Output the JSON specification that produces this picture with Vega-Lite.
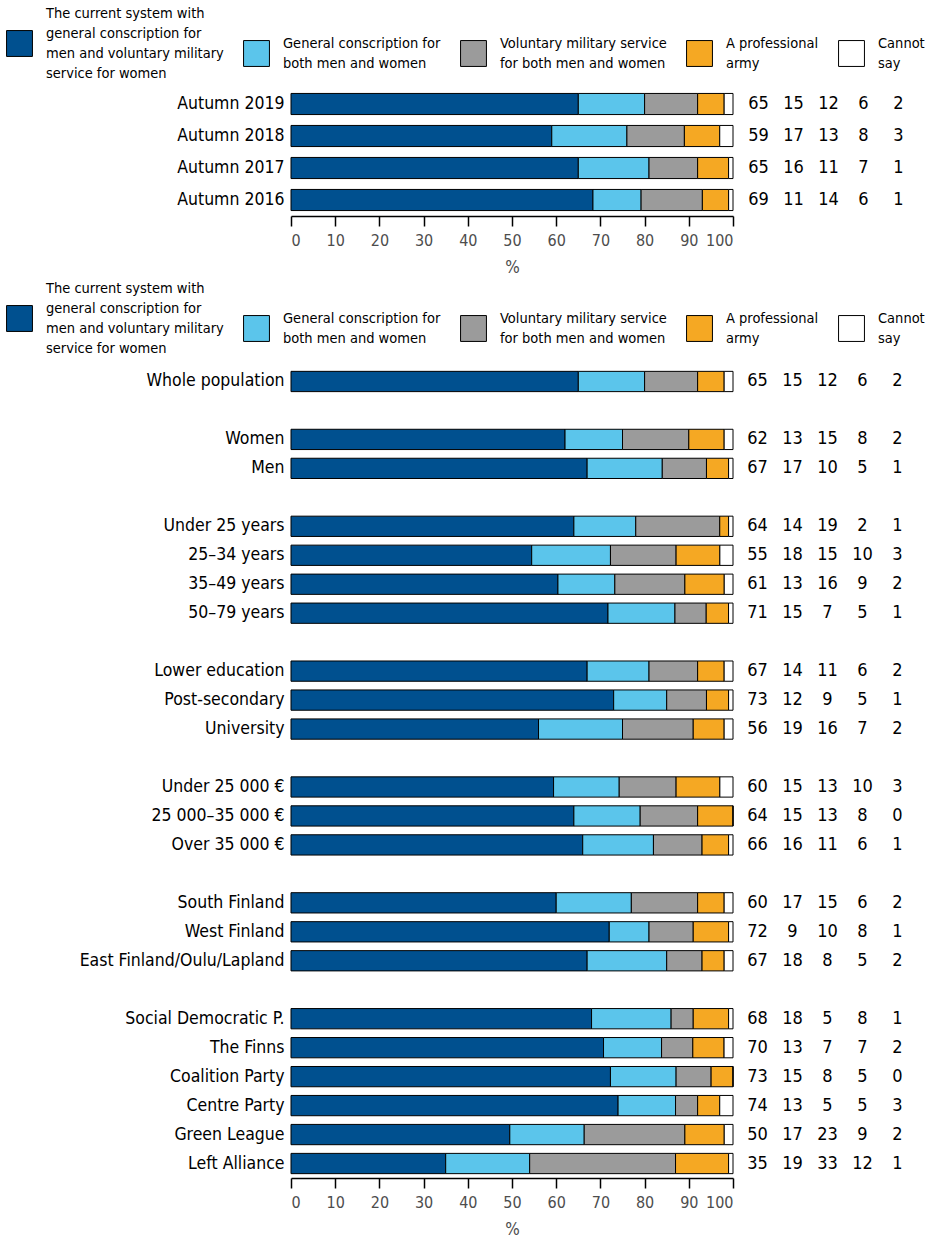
{
  "$schema": "https://vega.github.io/schema/vega-lite/v6.json",
  "padding": {"top": 30, "left": 5, "right": 5, "bottom": 5},
  "config": {
    "font": "DejaVu Sans Condensed, sans-serif",
    "view": {"stroke": null},
    "style": {"guide-label": {"lineHeight": 20}}
  },
  "datasets": {
    "options": [
      {"key": "current", "option": "The current system with general conscription for men and voluntary military service for women", "k": 1},
      {"key": "general", "option": "General conscription for both men and women", "k": 2},
      {"key": "voluntary", "option": "Voluntary military service for both men and women", "k": 3},
      {"key": "professional", "option": "A professional army", "k": 4},
      {"key": "cannot", "option": "Cannot say", "k": 5}
    ],
    "trend": [
      {"group": "Autumn 2019", "current": 65, "general": 15, "voluntary": 12, "professional": 6, "cannot": 2},
      {"group": "Autumn 2018", "current": 59, "general": 17, "voluntary": 13, "professional": 8, "cannot": 3},
      {"group": "Autumn 2017", "current": 65, "general": 16, "voluntary": 11, "professional": 7, "cannot": 1},
      {"group": "Autumn 2016", "current": 69, "general": 11, "voluntary": 14, "professional": 6, "cannot": 1}
    ],
    "groups": [
      {"group": "Whole population", "current": 65, "general": 15, "voluntary": 12, "professional": 6, "cannot": 2},
      {"group": "Women", "current": 62, "general": 13, "voluntary": 15, "professional": 8, "cannot": 2},
      {"group": "Men", "current": 67, "general": 17, "voluntary": 10, "professional": 5, "cannot": 1},
      {"group": "Under 25 years", "current": 64, "general": 14, "voluntary": 19, "professional": 2, "cannot": 1},
      {"group": "25–34 years", "current": 55, "general": 18, "voluntary": 15, "professional": 10, "cannot": 3},
      {"group": "35–49 years", "current": 61, "general": 13, "voluntary": 16, "professional": 9, "cannot": 2},
      {"group": "50–79 years", "current": 71, "general": 15, "voluntary": 7, "professional": 5, "cannot": 1},
      {"group": "Lower education", "current": 67, "general": 14, "voluntary": 11, "professional": 6, "cannot": 2},
      {"group": "Post-secondary", "current": 73, "general": 12, "voluntary": 9, "professional": 5, "cannot": 1},
      {"group": "University", "current": 56, "general": 19, "voluntary": 16, "professional": 7, "cannot": 2},
      {"group": "Under 25 000 €", "current": 60, "general": 15, "voluntary": 13, "professional": 10, "cannot": 3},
      {"group": "25 000–35 000 €", "current": 64, "general": 15, "voluntary": 13, "professional": 8, "cannot": 0},
      {"group": "Over 35 000 €", "current": 66, "general": 16, "voluntary": 11, "professional": 6, "cannot": 1},
      {"group": "South Finland", "current": 60, "general": 17, "voluntary": 15, "professional": 6, "cannot": 2},
      {"group": "West Finland", "current": 72, "general": 9, "voluntary": 10, "professional": 8, "cannot": 1},
      {"group": "East Finland/Oulu/Lapland", "current": 67, "general": 18, "voluntary": 8, "professional": 5, "cannot": 2},
      {"group": "Social Democratic P.", "current": 68, "general": 18, "voluntary": 5, "professional": 8, "cannot": 1},
      {"group": "The Finns", "current": 70, "general": 13, "voluntary": 7, "professional": 7, "cannot": 2},
      {"group": "Coalition Party", "current": 73, "general": 15, "voluntary": 8, "professional": 5, "cannot": 0},
      {"group": "Centre Party", "current": 74, "general": 13, "voluntary": 5, "professional": 5, "cannot": 3},
      {"group": "Green League", "current": 50, "general": 17, "voluntary": 23, "professional": 9, "cannot": 2},
      {"group": "Left Alliance", "current": 35, "general": 19, "voluntary": 33, "professional": 12, "cannot": 1}
    ]
  },
  "resolve": {"legend": {"color": "independent"}},
  "spacing": 30,
  "vconcat": [
    {
      "spacing": 8,
      "bounds": "flush",
      "hconcat": [
        {
          "width": 442,
          "height": 128,
          "data": {"name": "trend"},
          "transform": [
            {"fold": ["current", "general", "voluntary", "professional", "cannot"], "as": ["key", "value"]},
            {"lookup": "key", "from": {"data": {"name": "options"}, "key": "key", "fields": ["option", "k"]}}
          ],
          "mark": {"type": "bar", "stroke": "#000000", "strokeWidth": 1},
          "encoding": {
            "y": {
              "field": "group", "type": "nominal",
              "scale": {"domain": ["Autumn 2019", "Autumn 2018", "Autumn 2017", "Autumn 2016"], "paddingInner": 0.34, "paddingOuter": 0.17},
              "axis": {"title": null, "ticks": false, "domain": false, "labelFontSize": 17.5, "labelColor": "#000000", "labelPadding": 7, "minExtent": 282, "maxExtent": 282, "labelLimit": 300}
            },
            "x": {
              "field": "value", "type": "quantitative", "stack": "normalize",
              "scale": {"domain": [0, 1], "nice": false},
              "axis": {"title": "%", "values": [0, 0.1, 0.2, 0.3, 0.4, 0.5, 0.6, 0.7, 0.8, 0.9, 1], "labelExpr": "round(datum.value * 100)", "labelOverlap": false, "grid": false, "domainColor": "#000000", "domainWidth": 1.5, "tickColor": "#000000", "tickWidth": 1.5, "tickSize": 10, "labelFontSize": 16, "labelColor": "#4d4d4d", "labelPadding": 6, "titleFontSize": 17, "titleFontWeight": "normal", "titleColor": "#4d4d4d", "titlePadding": 11}
            },
            "color": {
              "field": "option", "type": "nominal",
              "scale": {
                "domain": ["The current system with general conscription for men and voluntary military service for women", "General conscription for both men and women", "Voluntary military service for both men and women", "A professional army", "Cannot say"],
                "range": ["#00508f", "#5bc5eb", "#9b9b9b", "#f5a823", "#ffffff"]
              },
              "legend": {
                "orient": "none", "legendX": -285, "legendY": -58, "direction": "horizontal", "columns": 5, "title": null,
                "symbolType": "square", "symbolSize": 670, "symbolStrokeColor": "#000000", "symbolStrokeWidth": 1, "symbolOpacity": 1,
                "labelFontSize": 14.5, "labelColor": "#000000", "labelLimit": 400, "labelOffset": 13, "columnPadding": 17,
                "labelExpr": "datum.label == 'The current system with general conscription for men and voluntary military service for women' ? ['The current system with', 'general conscription for', 'men and voluntary military', 'service for women'] : datum.label == 'General conscription for both men and women' ? ['General conscription for', 'both men and women'] : datum.label == 'Voluntary military service for both men and women' ? ['Voluntary military service', 'for both men and women'] : datum.label == 'A professional army' ? ['A professional', 'army'] : ['Cannot', 'say']",
                "encode": {"labels": {"update": {"dy": {"signal": "indexof(datum.label, 'The current system') == 0 ? -30 : -10"}}}}
              }
            },
            "order": {"field": "k", "type": "quantitative"}
          }
        },
        {
          "width": 175,
          "height": 128,
          "data": {"name": "trend"},
          "transform": [
            {"fold": ["current", "general", "voluntary", "professional", "cannot"], "as": ["key", "value"]},
            {"lookup": "key", "from": {"data": {"name": "options"}, "key": "key", "fields": ["option", "k"]}}
          ],
          "mark": {"type": "text", "fontSize": 18, "color": "#000000", "baseline": "middle"},
          "encoding": {
            "y": {
              "field": "group", "type": "nominal",
              "scale": {"domain": ["Autumn 2019", "Autumn 2018", "Autumn 2017", "Autumn 2016"], "paddingInner": 0.34, "paddingOuter": 0.17},
              "axis": null
            },
            "x": {"field": "k", "type": "ordinal", "scale": {"type": "point", "padding": 0.5}, "axis": null},
            "text": {"field": "value", "type": "quantitative"}
          }
        }
      ]
    },
    {
      "spacing": 7,
      "bounds": "flush",
      "hconcat": [
        {
          "width": 442,
          "height": 811,
          "data": {"name": "groups"},
          "transform": [
            {"fold": ["current", "general", "voluntary", "professional", "cannot"], "as": ["key", "value"]},
            {"lookup": "key", "from": {"data": {"name": "options"}, "key": "key", "fields": ["option", "k"]}}
          ],
          "mark": {"type": "bar", "stroke": "#000000", "strokeWidth": 1},
          "encoding": {
            "y": {
              "field": "group", "type": "nominal",
              "scale": {"domain": ["Whole population", " ", "Women", "Men", "  ", "Under 25 years", "25–34 years", "35–49 years", "50–79 years", "   ", "Lower education", "Post-secondary", "University", "    ", "Under 25 000 €", "25 000–35 000 €", "Over 35 000 €", "     ", "South Finland", "West Finland", "East Finland/Oulu/Lapland", "      ", "Social Democratic P.", "The Finns", "Coalition Party", "Centre Party", "Green League", "Left Alliance"], "paddingInner": 0.3, "paddingOuter": 0.15},
              "axis": {"title": null, "ticks": false, "domain": false, "labelFontSize": 17.5, "labelColor": "#000000", "labelPadding": 7, "minExtent": 286, "maxExtent": 286, "labelLimit": 300}
            },
            "x": {
              "field": "value", "type": "quantitative", "stack": "normalize",
              "scale": {"domain": [0, 1], "nice": false},
              "axis": {"title": "%", "values": [0, 0.1, 0.2, 0.3, 0.4, 0.5, 0.6, 0.7, 0.8, 0.9, 1], "labelExpr": "round(datum.value * 100)", "labelOverlap": false, "grid": false, "domainColor": "#000000", "domainWidth": 1.5, "tickColor": "#000000", "tickWidth": 1.5, "tickSize": 10, "labelFontSize": 16, "labelColor": "#4d4d4d", "labelPadding": 6, "titleFontSize": 17, "titleFontWeight": "normal", "titleColor": "#4d4d4d", "titlePadding": 11}
            },
            "color": {
              "field": "option", "type": "nominal",
              "scale": {
                "domain": ["The current system with general conscription for men and voluntary military service for women", "General conscription for both men and women", "Voluntary military service for both men and women", "A professional army", "Cannot say"],
                "range": ["#00508f", "#5bc5eb", "#9b9b9b", "#f5a823", "#ffffff"]
              },
              "legend": {
                "orient": "none", "legendX": -285, "legendY": -62, "direction": "horizontal", "columns": 5, "title": null,
                "symbolType": "square", "symbolSize": 670, "symbolStrokeColor": "#000000", "symbolStrokeWidth": 1, "symbolOpacity": 1,
                "labelFontSize": 14.5, "labelColor": "#000000", "labelLimit": 400, "labelOffset": 13, "columnPadding": 17,
                "labelExpr": "datum.label == 'The current system with general conscription for men and voluntary military service for women' ? ['The current system with', 'general conscription for', 'men and voluntary military', 'service for women'] : datum.label == 'General conscription for both men and women' ? ['General conscription for', 'both men and women'] : datum.label == 'Voluntary military service for both men and women' ? ['Voluntary military service', 'for both men and women'] : datum.label == 'A professional army' ? ['A professional', 'army'] : ['Cannot', 'say']",
                "encode": {"labels": {"update": {"dy": {"signal": "indexof(datum.label, 'The current system') == 0 ? -30 : -10"}}}}
              }
            },
            "order": {"field": "k", "type": "quantitative"}
          }
        },
        {
          "width": 175,
          "height": 811,
          "data": {"name": "groups"},
          "transform": [
            {"fold": ["current", "general", "voluntary", "professional", "cannot"], "as": ["key", "value"]},
            {"lookup": "key", "from": {"data": {"name": "options"}, "key": "key", "fields": ["option", "k"]}}
          ],
          "mark": {"type": "text", "fontSize": 18, "color": "#000000", "baseline": "middle"},
          "encoding": {
            "y": {
              "field": "group", "type": "nominal",
              "scale": {"domain": ["Whole population", " ", "Women", "Men", "  ", "Under 25 years", "25–34 years", "35–49 years", "50–79 years", "   ", "Lower education", "Post-secondary", "University", "    ", "Under 25 000 €", "25 000–35 000 €", "Over 35 000 €", "     ", "South Finland", "West Finland", "East Finland/Oulu/Lapland", "      ", "Social Democratic P.", "The Finns", "Coalition Party", "Centre Party", "Green League", "Left Alliance"], "paddingInner": 0.3, "paddingOuter": 0.15},
              "axis": null
            },
            "x": {"field": "k", "type": "ordinal", "scale": {"type": "point", "padding": 0.5}, "axis": null},
            "text": {"field": "value", "type": "quantitative"}
          }
        }
      ]
    }
  ]
}
